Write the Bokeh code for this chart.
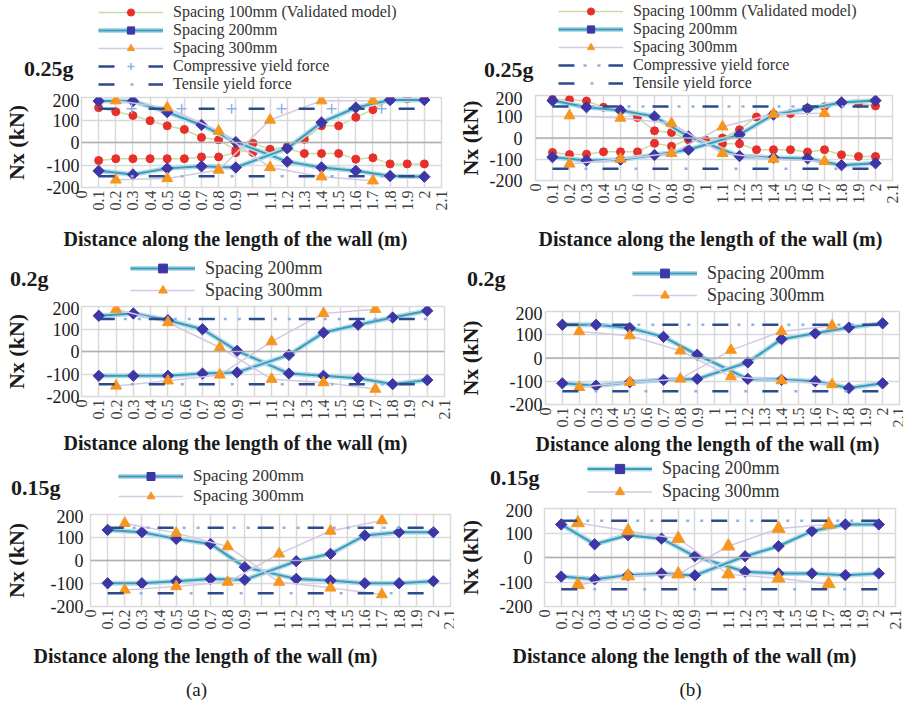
import math
import json
import numpy as np
from bokeh.plotting import figure
from bokeh.layouts import column, row
from bokeh.models import (Range1d, FixedTicker, CustomJSTickFormatter, Legend,
                          LegendItem, Span, LinearAxis)
from bokeh.embed import file_html
from bokeh.resources import INLINE

FONT = "Liberation Serif"

# ---------------- data ----------------
X_TICKS = [0.0, 0.1, 0.2, 0.3, 0.4, 0.5, 0.6, 0.7, 0.8, 0.9, 1.0,
           1.1, 1.2, 1.3, 1.4, 1.5, 1.6, 1.7, 1.8, 1.9, 2.0, 2.1]
Y_TICKS = [-200, -100, 0, 100, 200]

X100 = [0.1, 0.2, 0.3, 0.4, 0.5, 0.6, 0.7, 0.8, 0.9, 1.0,
        1.1, 1.2, 1.3, 1.4, 1.5, 1.6, 1.7, 1.8, 1.9, 2.0]
X200 = [0.1, 0.3, 0.5, 0.7, 0.9, 1.2, 1.4, 1.6, 1.8, 2.0]
X300 = [0.2, 0.5, 0.8, 1.1, 1.4, 1.7]
YIELD_X = [0.1, 2.0]

# (a) 0.25g
A025_S100_A = [155, 137, 120, 97, 74, 58, 22, 12, -34, -44, -31, -26, -49, -49, -49, -74, -68, -95, -95, -95]
A025_S100_B = [-80, -72, -72, -72, -72, -72, -64, -64, -45, -3, -31, -19, 14, 74, 74, 112, 146, 189, 194, 192]
A025_S200_A = [184, 184, 135, 78, 2, -85, -111, -126, -149, -152]
A025_S200_B = [-126, -142, -115, -106, -111, -26, 89, 155, 189, 189]
A025_S300_A = [186, 155, 51, -111, -152, -170]
A025_S300_B = [-166, -160, -122, 100, 186, 186]
A025_YIELD = [150, -150]

# (b) 0.25g
B025_S100_A = [182, 180, 174, 145, 133, 96, 34, 26, -8, -10, -27, -27, -55, -55, -55, -66, -55, -79, -87, -87]
B025_S100_B = [-68, -78, -76, -65, -65, -65, -25, -39, -6, -10, 0, 39, 99, 113, 115, 141, 147, 166, 163, 151]
B025_S200_A = [176, 145, 130, 101, 7, -85, -93, -96, -128, -119]
B025_S200_B = [-90, -106, -102, -80, -55, 16, 110, 137, 167, 176]
B025_S300_A = [105, 94, 69, -72, -99, -110]
B025_S300_B = [-122, -99, -72, 53, 113, 116]
B025_YIELD = [148, -145]

# (a) 0.2g
A020_S200_A = [159, 169, 139, 99, 3, -98, -108, -119, -145, -127]
A020_S200_B = [-108, -108, -108, -98, -93, -15, 84, 119, 151, 181]
A020_S300_A = [188, 129, 18, -123, -138, -167]
A020_S300_B = [-153, -130, -104, 44, 169, 188]
A020_YIELD = [145, -145]

# (b) 0.2g
B020_S200_A = [143, 143, 129, 91, 14, -90, -94, -100, -129, -109]
B020_S200_B = [-109, -119, -104, -94, -90, -19, 81, 106, 131, 149]
B020_S300_A = [114, 96, 31, -80, -97, -114]
B020_S300_B = [-126, -104, -90, 34, 114, 139]
B020_YIELD = [143, -143]

# (a) 0.15g
A015_S200_A = [133, 123, 94, 72, -29, -80, -87, -99, -99, -90]
A015_S200_B = [-99, -99, -90, -80, -84, -3, 29, 109, 123, 123]
A015_S300_A = [162, 119, 61, -94, -119, -148]
A015_S300_B = [-128, -113, -94, 29, 128, 174]
A015_YIELD = [142, -142]

# (b) 0.15g
B015_S200_A = [135, 54, 91, 77, 5, -58, -65, -65, -72, -65]
B015_S200_B = [-78, -89, -72, -65, -73, 5, 46, 108, 135, 135]
B015_S300_A = [141, 108, 77, -68, -85, -108]
B015_S300_B = [-112, -76, -68, 46, 118, 135]
B015_YIELD = [150, -130]

LBL_100 = "Spacing 100mm (Validated model)"
LBL_200 = "Spacing 200mm"
LBL_300 = "Spacing 300mm"
LBL_COMP = "Compressive yield force"
LBL_TENS = "Tensile yield force"
X_TITLE = "Distance along the length of the wall (m)"
Y_TITLE = "Nx (kN)"

# ---------------- styles ----------------
C100_LINE = "#c6dea6"
C100_MK = "#e8302a"
C200_HALO = "#b5dbe8"
C200_LINE = "#3a9cbd"
C200_MK = "#3d36a6"
C300_LINE = "#d3c9e2"
C300_MK = "#f7961f"
Y_DARK = "#2c4a8c"
Y_LIGHT = "#8db3e2"
GRID = "#d9d9d9"
TXT = "#1a1a1a"

S100_LINE = dict(line_color=C100_LINE, line_width=1.5)
S100_MARK = dict(marker="circle", size=8, fill_color=C100_MK, line_color=C100_MK)
S200_HALO = dict(line_color=C200_HALO, line_width=5)
S200_LINE = dict(line_color=C200_LINE, line_width=2)
S200_MARK = dict(marker="square", angle=math.pi / 4, size=8, fill_color=C200_MK, line_color=C200_MK)
S300_LINE = dict(line_color=C300_LINE, line_width=1.5)
YD = dict(line_color=Y_DARK, line_width=2.5, line_dash="16 34")
YL_ONE = dict(line_color=Y_LIGHT, line_width=2.5, line_dash="3 47", line_dash_offset=18)
YL_TWO = dict(line_color=Y_LIGHT, line_width=2.5, line_dash="3 11 3 33", line_dash_offset=25)
YCROSS = dict(marker="cross", size=10, line_color=Y_LIGHT, line_width=1.5)


def text_axis(text, tick, standoff, size, bold, x_range_name=None):
    kw = {}
    if x_range_name:
        kw["x_range_name"] = x_range_name
    ax = LinearAxis(ticker=FixedTicker(ticks=[tick]),
                    formatter=CustomJSTickFormatter(code="return " + json.dumps(text) + ";"),
                    axis_line_color=None, major_tick_line_color=None, minor_tick_line_color=None,
                    major_tick_in=0, major_tick_out=0, major_label_standoff=standoff,
                    major_label_text_font=FONT, major_label_text_font_size=f"{size}px",
                    major_label_text_font_style="bold" if bold else "normal",
                    major_label_text_color=TXT, **kw)
    return ax


def build(cfg):
    PL, RT, RB = cfg["pl"], cfg["row_top"], cfg["row_bot"]
    FL, FT = cfg["frame_lt"]
    fw, fh = cfg["frame_wh"]
    FR, FB = FL + fw, FT + fh
    mtop = cfg.get("mtop", 5)
    head_bot = FT - mtop
    HH = head_bot - RT
    tri = cfg.get("tri", 11)

    series100 = cfg.get("s100")
    series200 = cfg["s200"]
    series300 = cfg["s300"]
    yc, yt = cfg["yield"]

    # ---------- header: legend + level label ----------
    hd = figure(width=448, height=HH, x_range=Range1d(FL, FR), y_range=Range1d(0, HH),
                x_axis_type=None, y_axis_type=None,
                min_border_left=FL - PL, min_border_right=PL + 448 - FR,
                min_border_top=0, min_border_bottom=0,
                output_backend="svg", toolbar_location=None)
    hd.outline_line_color = None
    hd.background_fill_color = "white"
    hd.border_fill_color = "white"
    items = []
    # legend keys: same styles, fed with the series (they fall outside this header's ranges)
    if series100:
        items.append(LegendItem(label=LBL_100, renderers=[hd.line(X100, series100[0], **S100_LINE),
                                                          hd.scatter(X100, series100[0], **S100_MARK)]))
    items.append(LegendItem(label=LBL_200, renderers=[hd.line(X200, series200[0], **S200_HALO),
                                                      hd.line(X200, series200[0], **S200_LINE),
                                                      hd.scatter(X200, series200[0], **S200_MARK)]))
    items.append(LegendItem(label=LBL_300, renderers=[hd.line(X300, series300[0], **S300_LINE),
                                                      hd.scatter(X300, series300[0], marker="triangle", size=tri,
                                                                 fill_color=C300_MK, line_color=C300_MK)]))
    if cfg.get("yield_legend"):
        if cfg.get("cross"):
            comp_light = hd.scatter(YIELD_X, [yc, yc], **YCROSS)
        else:
            comp_light = hd.line(YIELD_X, [yc, yc], **YL_TWO)
        items.append(LegendItem(label=LBL_COMP, renderers=[hd.line(YIELD_X, [yc, yc], **YD), comp_light]))
        items.append(LegendItem(label=LBL_TENS, renderers=[hd.line(YIELD_X, [yt, yt], **YD),
                                                           hd.line(YIELD_X, [yt, yt], **YL_ONE)]))
    P = cfg["pitch"]
    if "leg_vy" in cfg:
        vy = cfg["leg_vy"]
    else:
        vy = head_bot - min(cfg["leg_row0"] - P / 2 + len(items) * P, head_bot)
    hd.add_layout(Legend(items=items, location=(cfg["leg_left"] - FL, vy),
                         orientation="vertical", background_fill_alpha=0, border_line_color=None,
                         label_text_font=FONT, label_text_font_size=cfg.get("leg_font", "17px"),
                         label_text_color="#333333",
                         glyph_width=65, glyph_height=P, label_height=P,
                         spacing=0, padding=0, margin=0, label_standoff=10))
    g_right, g_y = cfg["g_pos"]
    hd.add_layout(text_axis(cfg["g"], head_bot - g_y, FL - g_right, 22, True), "left")

    # ---------- chart ----------
    p = figure(frame_width=fw, frame_height=fh,
               min_border_left=FL - PL, min_border_top=mtop,
               min_border_right=PL + 448 - FR, min_border_bottom=RB - FB,
               x_range=Range1d(0, 2.1), y_range=Range1d(-200, 200),
               output_backend="svg", toolbar_location=None)
    p.outline_line_color = GRID
    p.outline_line_width = 1.5
    p.background_fill_color = "white"
    p.border_fill_color = "white"
    p.xaxis.ticker = FixedTicker(ticks=X_TICKS)
    p.xaxis.formatter = CustomJSTickFormatter(code="return tick.toFixed(1).replace(/\\.0$/, '');")
    p.xaxis.major_label_orientation = math.pi / 2
    p.yaxis.ticker = FixedTicker(ticks=Y_TICKS)
    p.yaxis.formatter = CustomJSTickFormatter(code="return tick.toFixed(0);")
    for ax in (p.xaxis, p.yaxis):
        ax.axis_line_color = None
        ax.major_tick_line_color = None
        ax.minor_tick_line_color = None
        ax.major_tick_out = 0
        ax.major_tick_in = 0
        ax.major_label_text_font = FONT
    p.xaxis.major_label_text_font_size = "16px"
    p.xaxis.major_label_text_color = "#404040"
    p.xaxis.major_label_standoff = 3
    p.yaxis.major_label_text_font_size = "18px"
    p.yaxis.major_label_text_color = TXT
    p.yaxis.major_label_standoff = cfg["ystandoff"]
    p.yaxis.axis_label = Y_TITLE
    p.yaxis.axis_label_text_font = FONT
    p.yaxis.axis_label_text_font_size = "22px"
    p.yaxis.axis_label_text_font_style = "bold"
    p.yaxis.axis_label_text_color = TXT
    p.yaxis.axis_label_standoff = cfg["ylab_standoff"]
    p.xgrid.grid_line_color = GRID
    p.ygrid.grid_line_color = GRID
    p.xgrid.grid_line_width = 1.5
    p.ygrid.grid_line_width = 1.5
    p.add_layout(Span(location=0, dimension="width", line_color="#b0b0b0", line_width=1.5))

    if series100:
        for ys in series100:
            p.line(X100, ys, **S100_LINE)
            p.scatter(X100, ys, **S100_MARK)
    for ys in series200:
        p.line(X200, ys, **S200_HALO)
        p.line(X200, ys, **S200_LINE)
    for ys in series200:
        p.scatter(X200, ys, **S200_MARK)
    for ys in series300:
        p.line(X300, ys, **S300_LINE)
    for ys in series300:
        p.scatter(X300, ys, marker="triangle", size=tri, fill_color=C300_MK, line_color=C300_MK)

    p.line(YIELD_X, [yc, yc], **YD)
    if cfg.get("cross"):
        px_per_unit = fw / 2.1
        step = 50.0 / px_per_unit
        cx = np.arange(YIELD_X[0] + 33.0 / px_per_unit, YIELD_X[1], step)
        p.scatter(cx, [yc] * len(cx), **YCROSS)
    else:
        p.line(YIELD_X, [yc, yc], **YL_TWO)
    p.line(YIELD_X, [yt, yt], **YD)
    p.line(YIELD_X, [yt, yt], **YL_ONE)

    # x title (and caption) as extra text axes below the tick labels
    p.extra_x_ranges = {"page": Range1d(FL, FR)}
    tx, ty = cfg["xt_pos"]
    p.add_layout(text_axis(X_TITLE, tx, cfg["xt_standoff"], 20, True, "page"), "below")
    if cfg.get("cap"):
        cx_, cy_ = cfg["cap_pos"]
        p.add_layout(text_axis(cfg["cap"], cx_, cfg["cap_standoff"], 19, False, "page"), "below")

    return column(hd, p)


panels = [
    dict(pl=8, row_top=8, row_bot=252, frame_lt=(83, 105), frame_wh=(360, 90), mtop=4,
         ystandoff=2, ylab_standoff=15,
         s100=(A025_S100_A, A025_S100_B), s200=(A025_S200_A, A025_S200_B),
         s300=(A025_S300_A, A025_S300_B), yield_legend=True, cross=True,
         g="0.25g", g_pos=(75, 76), xt_pos=(237, 240), xt_standoff=14,
         leg_left=100, leg_vy=0, pitch=18, leg_font="16px"),
    dict(pl=456, row_top=8, row_bot=252, frame_lt=(533, 103), frame_wh=(357, 85), mtop=4,
         ystandoff=13, ylab_standoff=4,
         s100=(B025_S100_A, B025_S100_B), s200=(B025_S200_A, B025_S200_B),
         s300=(B025_S300_A, B025_S300_B), yield_legend=True,
         g="0.25g", g_pos=(531, 77), xt_pos=(708, 241), xt_standoff=21,
         leg_left=556, leg_vy=-1, pitch=18, leg_font="16px"),
    dict(pl=8, row_top=252, row_bot=452, frame_lt=(83, 306), frame_wh=(363, 90),
         ystandoff=2, ylab_standoff=15,
         s200=(A020_S200_A, A020_S200_B), s300=(A020_S300_A, A020_S300_B),
         g="0.2g", g_pos=(50, 278), xt_pos=(237, 440), xt_standoff=9,
         leg_left=132, leg_row0=268, pitch=22, leg_font="18px"),
    dict(pl=456, row_top=252, row_bot=452, frame_lt=(546, 311), frame_wh=(354, 93),
         ystandoff=3, ylab_standoff=24,
         s200=(B020_S200_A, B020_S200_B), s300=(B020_S300_A, B020_S300_B),
         g="0.2g", g_pos=(506, 278), xt_pos=(708, 440), xt_standoff=2,
         leg_left=633, leg_row0=273, pitch=22, leg_font="18px"),
    dict(pl=8, row_top=452, row_bot=696, frame_lt=(92, 509), frame_wh=(360, 92),
         ystandoff=7, ylab_standoff=19,
         s200=(A015_S200_A, A015_S200_B), s300=(A015_S300_A, A015_S300_B),
         g="0.15g", g_pos=(62, 482), xt_pos=(207, 657), xt_standoff=12,
         cap="(a)", cap_pos=(198, 685), cap_standoff=9,
         leg_left=120, leg_row0=471, pitch=20, leg_font="17px"),
    dict(pl=456, row_top=452, row_bot=696, frame_lt=(543, 503), frame_wh=(351, 98),
         ystandoff=12, ylab_standoff=14, tri=13,
         s200=(B015_S200_A, B015_S200_B), s300=(B015_S300_A, B015_S300_B),
         g="0.15g", g_pos=(538, 472), xt_pos=(683, 657), xt_standoff=12,
         cap="(b)", cap_pos=(689, 685), cap_standoff=9,
         leg_left=586, leg_row0=463.5, pitch=23, leg_font="18px"),
]
yields = [A025_YIELD, B025_YIELD, A020_YIELD, B020_YIELD, A015_YIELD, B015_YIELD]
for cfg, yv in zip(panels, yields):
    cfg["yield"] = yv

cols = [build(c) for c in panels]
layout = column(row(cols[0], cols[1]), row(cols[2], cols[3]), row(cols[4], cols[5]))

open("out.html", "w").write(file_html(layout, INLINE))
